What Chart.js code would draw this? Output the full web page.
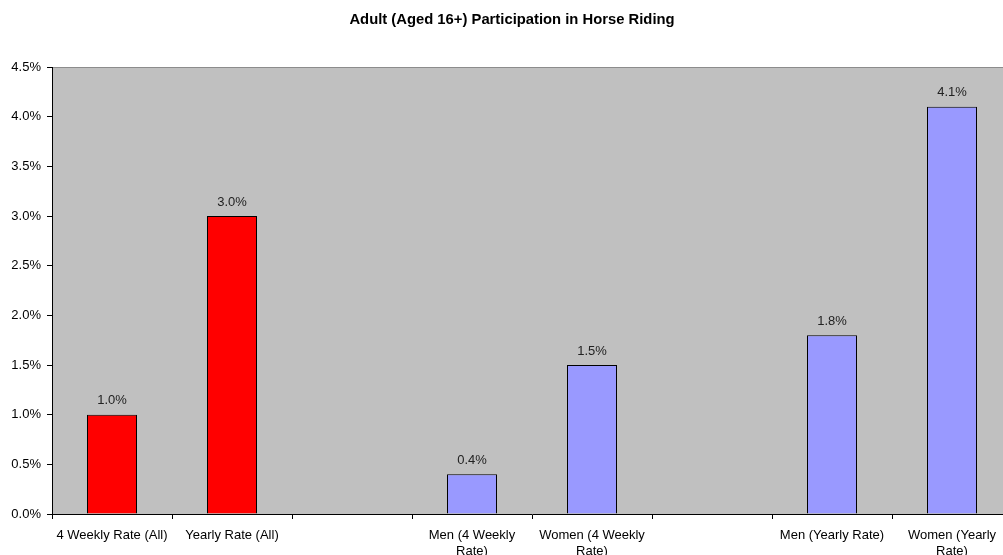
<!DOCTYPE html>
<html>
<head>
<meta charset="utf-8">
<script src="https://cdn.jsdelivr.net/npm/chart.js@4.4.1/dist/chart.umd.min.js"></script>
<style>
  html, body { margin: 0; padding: 0; background: #fff; overflow: hidden; }
  #box { width: 1024px; height: 555px; }
</style>
</head>
<body>
<div id="box"><canvas id="grafico" width="1024" height="555"></canvas></div>
<script>
const titolo = 'Adult (Aged 16+) Participation in Horse Riding';
const categorie = [
    ['4 Weekly Rate (All)'],
    ['Yearly Rate (All)'],
    [''],
    ['Men (4 Weekly', 'Rate)'],
    ['Women (4 Weekly', 'Rate)'],
    [''],
    ['Men (Yearly Rate)'],
    ['Women (Yearly', 'Rate)']
];
const valori = [1.0, 3.0, null, 0.4, 1.5, null, 1.8, 4.1];
const coloriBarre = ['#FF0000', '#FF0000', '#9999FF', '#9999FF', '#9999FF', '#9999FF', '#9999FF', '#9999FF'];
const tickY = [0, 0.5, 1.0, 1.5, 2.0, 2.5, 3.0, 3.5, 4.0, 4.5];

const font = 'Liberation Sans, Arial, sans-serif';

// sfondo grigio dell'area del grafico, bordo superiore e titolo centrato sulla pagina
const sfondo = {
    id: 'sfondo',
    beforeDraw(chart) {
        const { ctx, chartArea: a } = chart;
        ctx.save();
        ctx.fillStyle = '#C0C0C0';
        ctx.fillRect(a.left, a.top, a.right - a.left, a.bottom - a.top);
        ctx.strokeStyle = '#8C8C8C';
        ctx.lineWidth = 1;
        ctx.beginPath();
        ctx.moveTo(a.left, a.top + 0.5);
        ctx.lineTo(a.right, a.top + 0.5);
        ctx.stroke();

        ctx.font = 'bold 14.8px ' + font;
        ctx.fillStyle = '#000';
        ctx.textAlign = 'center';
        ctx.textBaseline = 'middle';
        ctx.fillText(titolo, chart.width / 2, 20);
        ctx.restore();
    }
};

// etichette con il valore sopra ogni barra
const etichette = {
    id: 'etichette',
    afterDatasetsDraw(chart) {
        const { ctx } = chart;
        const meta = chart.getDatasetMeta(0);
        ctx.save();
        ctx.font = '13px ' + font;
        ctx.fillStyle = '#222';
        ctx.textAlign = 'center';
        ctx.textBaseline = 'middle';
        meta.data.forEach((barra, i) => {
            if (valori[i] == null) return;
            ctx.fillText(valori[i].toFixed(1) + '%', barra.x, barra.y - 14);
        });
        ctx.restore();
    }
};

const config = {
    type: 'bar',
    data: {
        labels: categorie,
        datasets: [{
            data: valori,
            backgroundColor: coloriBarre,
            borderColor: '#000',
            borderWidth: 1,
            borderSkipped: 'bottom',
            categoryPercentage: 1,
            barPercentage: 50 / 120
        }]
    },
    options: {
        responsive: false,
        animation: false,
        layout: { padding: { left: 0, right: 12, top: 67, bottom: 0 } },
        plugins: {
            legend: { display: false },
            tooltip: { enabled: false },
            title: { display: false }
        },
        scales: {
            x: {
                grid: {
                    offset: true,
                    drawOnChartArea: false,
                    drawTicks: true,
                    tickLength: 5,
                    color: '#000'
                },
                border: { display: true, color: '#000', width: 1 },
                ticks: {
                    color: '#000',
                    font: { family: font, size: 13, lineHeight: 1.2 },
                    padding: 9,
                    maxRotation: 0,
                    autoSkip: false
                },
                afterFit(scala) { scala.height = 41; }
            },
            y: {
                min: 0,
                max: 4.5,
                afterBuildTicks(scala) {
                    scala.ticks = tickY.map(v => ({ value: v }));
                },
                grid: {
                    drawOnChartArea: false,
                    drawTicks: true,
                    tickLength: 5,
                    color: '#000'
                },
                border: { display: true, color: '#000', width: 1 },
                ticks: {
                    color: '#000',
                    font: { family: font, size: 13 },
                    padding: 6,
                    callback: v => v.toFixed(1) + '%'
                },
                afterFit(scala) { scala.width = 52; }
            }
        }
    },
    plugins: [sfondo, etichette]
};

new Chart(document.getElementById('grafico').getContext('2d'), config);
</script>
</body>
</html>
